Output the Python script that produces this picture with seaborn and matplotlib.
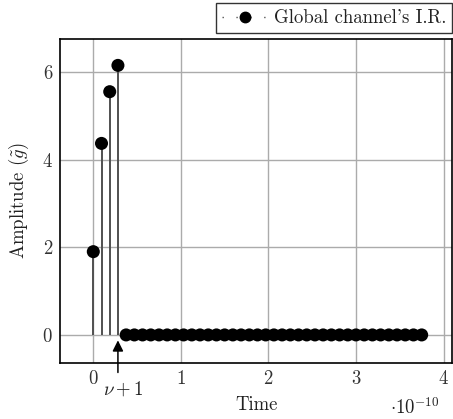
import numpy as np
import matplotlib
matplotlib.use("Agg")
import matplotlib.pyplot as plt
import seaborn as sns
from matplotlib.lines import Line2D

# Data (time in units of 1e-10 s)
T = 0.09375
active_idx = [0, 1, 2, 3]
active_vals = [1.9, 4.37, 5.55, 6.15]
zero_idx = list(range(4, 41))
zero_vals = [0.0] * len(zero_idx)
x_ticks = [0, 1, 2, 3, 4]
y_ticks = [0, 2, 4, 6]

t_active = np.array(active_idx) * T
t_zero = np.array(zero_idx) * T
t_all = np.concatenate([t_active, t_zero])
v_all = np.concatenate([active_vals, zero_vals])

sns.set_theme(style="whitegrid")
plt.rcParams['font.family'] = ['cmr10', 'DejaVu Serif']
plt.rcParams['mathtext.fontset'] = 'cm'
plt.rcParams['axes.formatter.use_mathtext'] = True
plt.rcParams['axes.unicode_minus'] = False

FS = 13.5
fig = plt.figure(figsize=(4.53, 4.19), dpi=100)
ax = fig.add_axes([0.1325, 0.1337, 0.866, 0.773])

ax.vlines(t_all, 0, v_all, colors='#505050', linewidth=1.4, zorder=2)
sns.scatterplot(x=t_all, y=v_all, ax=ax, color='black', s=88, edgecolor='none', zorder=3)

ax.set_xlim(-0.38, 4.1)
ax.set_ylim(-0.64, 6.75)
ax.set_xticks(x_ticks)
ax.set_yticks(y_ticks)
ax.grid(True, color='#ababab', linewidth=1.0)
for sp in ax.spines.values():
    sp.set_color('black')
    sp.set_linewidth(1.2)
ax.tick_params(axis='both', labelsize=FS, colors='black', length=0, pad=5)
for lbl in ax.get_xticklabels() + ax.get_yticklabels():
    lbl.set_color('#333333')

ax.set_xlabel('Time', fontsize=FS, color='#222222', labelpad=6)
ax.set_ylabel(r'Amplitude ($\tilde{g}$)', fontsize=FS, color='#222222', labelpad=8)

fig.text(0.97, 0.002, r'$\cdot 10^{-10}$', ha='right', va='bottom',
         fontsize=FS, color='#222222')

# nu+1 arrow
ax.annotate('', xy=(3 * T, -0.06), xytext=(3 * T, -0.92),
            arrowprops=dict(arrowstyle='-|>', color='black', lw=1.1, mutation_scale=16),
            annotation_clip=False)
ax.text(3 * T + 0.06, -1.02, r'$\nu+1$', ha='center', va='top', fontsize=FS, color='#222222',
        clip_on=False)

handle = Line2D([0], [0], color='#555555', linestyle=(0, (1, 9)), marker='o', markersize=7.5,
                markerfacecolor='black', markeredgecolor='black', linewidth=1.0)
leg = fig.legend([handle], ["Global channel's I.R."], loc='upper right',
                 bbox_to_anchor=(0.998, 0.992), fontsize=FS, frameon=True, fancybox=False,
                 edgecolor='black', handlelength=2.4, handletextpad=0.35, borderpad=0.32,
                 borderaxespad=0)
leg.get_frame().set_linewidth(1.0)
for txt in leg.get_texts():
    txt.set_color('#222222')

fig.savefig('out.png', dpi=100)
